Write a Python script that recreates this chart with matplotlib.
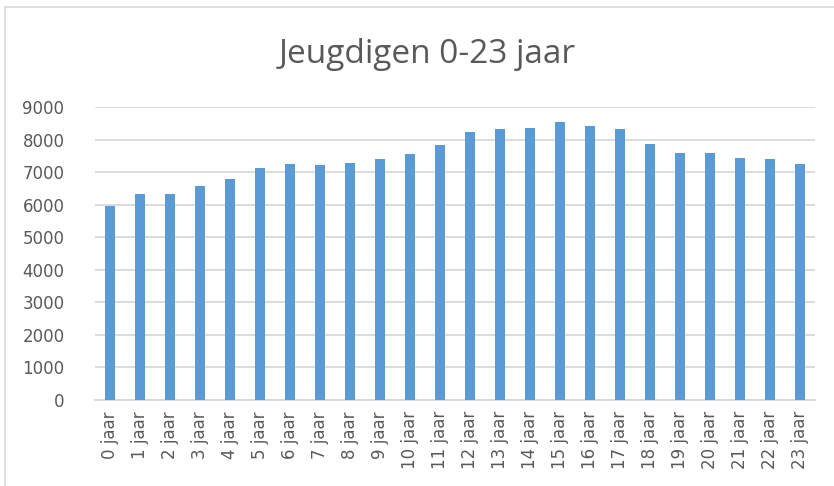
import matplotlib
matplotlib.use("Agg")
import matplotlib.pyplot as plt
from matplotlib.patches import Rectangle
import numpy as np

# data
ages = [f"{i} jaar" for i in range(24)]
counts = [5950, 6340, 6340, 6585, 6790, 7115, 7260, 7220, 7290, 7415, 7570, 7820,
          8235, 8310, 8350, 8540, 8430, 8310, 7875, 7600, 7600, 7445, 7400, 7250]
yticks = list(range(0, 9001, 1000))

bar_color = '#5b9bd5'
grid_color = '#d9d9d9'
text_color = '#595959'

fig = plt.figure(figsize=(8.34, 4.86), dpi=100)
fig.patch.set_facecolor('white')

# light frame around the chart area (top and left edges visible)
fig.add_artist(Rectangle((5 / 834, -0.1), 1.2, 1 - 7 / 486 + 0.1,
                         transform=fig.transFigure, fill=False,
                         edgecolor='#d9d9d9', linewidth=1.2))

ax = fig.add_axes([95 / 834, 1 - 400 / 486, 720 / 834, 293 / 486])
x = np.arange(len(ages))
ax.bar(x, counts, width=0.31, color=bar_color, zorder=3)

ax.set_xlim(-0.5, len(ages) - 0.5)
ax.set_ylim(0, 9000)
ax.set_yticks(yticks)
ax.set_yticklabels([str(v) for v in yticks])
ax.set_xticks(x)
ax.set_xticklabels(ages, rotation=90)

ax.grid(axis='y', color=grid_color, linewidth=1.3, zorder=0)
for side in ['top', 'right', 'left']:
    ax.spines[side].set_visible(False)
ax.spines['bottom'].set_color(grid_color)
ax.spines['bottom'].set_linewidth(1.3)
ax.tick_params(axis='both', length=0, colors=text_color, labelsize=12)
ax.tick_params(axis='y', pad=22)
ax.tick_params(axis='x', pad=8)

fig.text(0.512, 1 - 54 / 486, 'Jeugdigen 0-23 jaar', fontsize=24,
         family='Open Sans', color=text_color, ha='center', va='center')

fig.savefig('out.png', dpi=100, facecolor='white')
